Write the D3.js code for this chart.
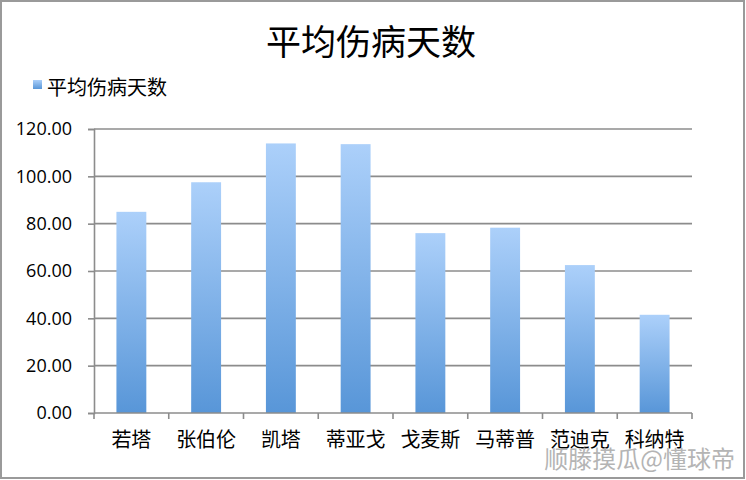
<!DOCTYPE html>
<html>
<head>
<meta charset="utf-8">
<script src="https://cdn.jsdelivr.net/npm/d3@7"></script>
<style>
  body { margin: 0; background: #fff; }
  svg { display: block; }
  text { font-family: "Noto Sans CJK SC", "Liberation Sans", sans-serif; fill: #000; }
  .num { font-family: "Open Sans", "Liberation Sans", sans-serif; }
</style>
</head>
<body>
<svg id="chart" width="746" height="480"></svg>
<script>
// data
var players = ["若塔", "张伯伦", "凯塔", "蒂亚戈", "戈麦斯", "马蒂普", "范迪克", "科纳特"];
var avgDays = [85.0, 97.5, 113.9, 113.6, 76.0, 78.3, 62.5, 41.5];
var yTicks = [0, 20, 40, 60, 80, 100, 120];
var seriesName = "平均伤病天数";

var svg = d3.select("#chart"),
    plotLeft = 94, plotRight = 692,
    plotTop = 129, plotBottom = 413;

// frame
svg.append("rect")
    .attr("x", 1).attr("y", 1)
    .attr("width", 743).attr("height", 477)
    .attr("fill", "none")
    .attr("stroke", "#9a9a9a")
    .attr("stroke-width", 2);

var defs = svg.append("defs");
var grad = defs.append("linearGradient")
    .attr("id", "barGrad")
    .attr("x1", 0).attr("y1", 0).attr("x2", 0).attr("y2", 1);
grad.append("stop").attr("offset", "0%").attr("stop-color", "#acd0fa");
grad.append("stop").attr("offset", "100%").attr("stop-color", "#5896d8");

var x = d3.scaleBand().domain(players).range([plotLeft, plotRight]).paddingInner(0.6).paddingOuter(0.3);
var y = d3.scaleLinear().domain([0, 120]).range([plotBottom, plotTop]);

// gridlines
svg.append("g").selectAll("line")
    .data(yTicks.slice(1))
    .join("line")
    .attr("x1", plotLeft).attr("x2", plotRight)
    .attr("y1", function (d) { return y(d); })
    .attr("y2", function (d) { return y(d); })
    .attr("stroke", "#8c8c8c")
    .attr("stroke-width", 1.6);

// bars
svg.append("g").selectAll("rect")
    .data(avgDays)
    .join("rect")
    .attr("x", function (d, i) { return x(players[i]); })
    .attr("y", function (d) { return y(d); })
    .attr("width", x.bandwidth())
    .attr("height", function (d) { return y(0) - y(d); })
    .attr("fill", "url(#barGrad)");

// y axis
var yAxis = svg.append("g")
    .attr("transform", "translate(" + plotLeft + ",0)")
    .call(d3.axisLeft(y).tickValues(yTicks).tickSize(6).tickPadding(16)
        .tickFormat(function (d) { return d.toFixed(2); }));
yAxis.select(".domain").attr("stroke", "#8c8c8c").attr("stroke-width", 1.6);
yAxis.selectAll(".tick line").attr("stroke", "#8c8c8c").attr("stroke-width", 1.6);
yAxis.selectAll(".tick text")
    .attr("class", "num")
    .attr("font-size", 18)
    .attr("fill", "#000");

// x axis, ticks at band boundaries
var xb = d3.scaleLinear().domain([0, players.length]).range([plotLeft, plotRight]);
var xAxis = svg.append("g").attr("transform", "translate(0," + plotBottom + ")");
xAxis.append("line")
    .attr("x1", plotLeft).attr("x2", plotRight)
    .attr("stroke", "#8c8c8c").attr("stroke-width", 1.6);
xAxis.selectAll(".xt")
    .data(d3.range(players.length + 1))
    .join("line")
    .attr("class", "xt")
    .attr("x1", function (d) { return xb(d); })
    .attr("x2", function (d) { return xb(d); })
    .attr("y1", 0).attr("y2", 6)
    .attr("stroke", "#8c8c8c").attr("stroke-width", 1.6);
xAxis.selectAll(".xl")
    .data(players)
    .join("text")
    .attr("class", "xl")
    .attr("x", function (d) { return x(d) + x.bandwidth() / 2; })
    .attr("y", 34)
    .attr("text-anchor", "middle")
    .attr("font-size", 20)
    .text(function (d) { return d; });

// title
svg.append("text")
    .attr("x", 371).attr("y", 55)
    .attr("text-anchor", "middle")
    .attr("font-size", 35)
    .text(seriesName);

// legend
svg.append("rect")
    .attr("x", 33).attr("y", 80)
    .attr("width", 9).attr("height", 9)
    .attr("fill", "url(#barGrad)");
svg.append("text")
    .attr("x", 47).attr("y", 95)
    .attr("font-size", 20)
    .text(seriesName);

// watermark
svg.append("text")
    .attr("x", 735).attr("y", 468)
    .attr("text-anchor", "end")
    .attr("font-size", 24)
    .style("fill", "#b4b4b4")
    .text("顺滕摸瓜@懂球帝");
</script>
</body>
</html>
